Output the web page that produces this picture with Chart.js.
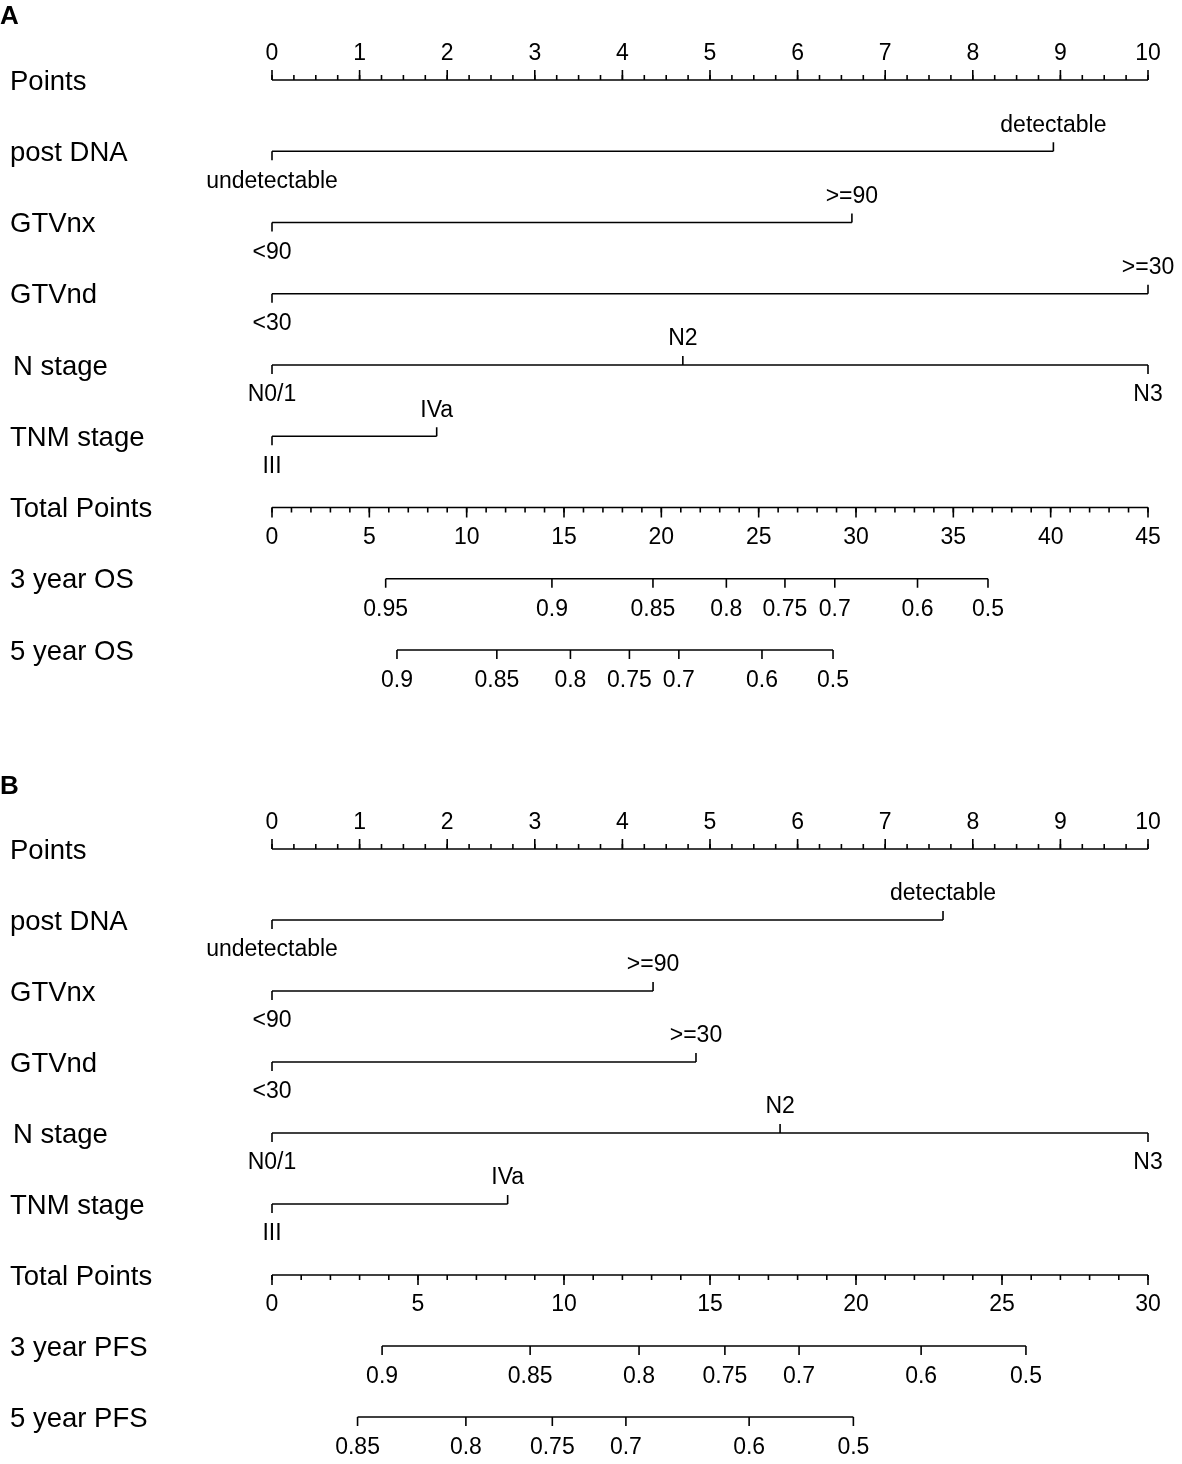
<!DOCTYPE html>
<html>
<head>
<meta charset="utf-8">
<script src="https://cdn.jsdelivr.net/npm/chart.js@4.4.1/dist/chart.umd.min.js"></script>
<style>
  html, body { margin: 0; padding: 0; background: #fff; }
  canvas { display: block; }
</style>
</head>
<body>
<canvas id="nomoA" width="1182" height="732"></canvas>
<canvas id="nomoB" width="1182" height="732"></canvas>
<script>
// ---- data ----
const pointTicks = [0, 1, 2, 3, 4, 5, 6, 7, 8, 9, 10];

const postDnaLevels = ['undetectable', 'detectable'];
const gtvnxLevels = ['<90', '>=90'];
const gtvndLevels = ['<30', '>=30'];
const nStageLevels = ['N0/1', 'N2', 'N3'];
const tnmLevels = ['III', 'IVa'];

// panel A (overall survival)
const postDnaA = [0, 8.92];
const gtvnxA = [0, 6.62];
const gtvndA = [0, 10];
const nStageA = [0, 4.69, 10];
const tnmA = [0, 1.88];
const totalTicksA = [0, 5, 10, 15, 20, 25, 30, 35, 40, 45];
const os3Labels = ['0.95', '0.9', '0.85', '0.8', '0.75', '0.7', '0.6', '0.5'];
const os3Total = [5.84, 14.38, 19.57, 23.34, 26.35, 28.91, 33.16, 36.78];
const os5Labels = ['0.9', '0.85', '0.8', '0.75', '0.7', '0.6', '0.5'];
const os5Total = [6.42, 11.55, 15.33, 18.36, 20.90, 25.17, 28.82];

// panel B (progression-free survival)
const postDnaB = [0, 7.66];
const gtvnxB = [0, 4.35];
const gtvndB = [0, 4.84];
const nStageB = [0, 5.80, 10];
const tnmB = [0, 2.69];
const totalTicksB = [0, 5, 10, 15, 20, 25, 30];
const pfs3Labels = ['0.9', '0.85', '0.8', '0.75', '0.7', '0.6', '0.5'];
const pfs3Total = [3.77, 8.84, 12.57, 15.51, 18.05, 22.23, 25.82];
const pfs5Labels = ['0.85', '0.8', '0.75', '0.7', '0.6', '0.5'];
const pfs5Total = [2.93, 6.64, 9.60, 12.12, 16.34, 19.91];

// ---- rows ----
function panelRows(v) {
  return [
    { name: 'Points', type: 'axis', axis: 'x', ticks: pointTicks, minorStep: 0.25 },
    { name: 'post DNA', type: 'var', axis: 'x', at: v.postDna, labels: postDnaLevels },
    { name: 'GTVnx', type: 'var', axis: 'x', at: v.gtvnx, labels: gtvnxLevels },
    { name: 'GTVnd', type: 'var', axis: 'x', at: v.gtvnd, labels: gtvndLevels },
    { name: 'N stage', type: 'var', axis: 'x', at: v.nStage, labels: nStageLevels, indent: 3 },
    { name: 'TNM stage', type: 'var', axis: 'x', at: v.tnm, labels: tnmLevels },
    { name: 'Total Points', type: 'total', axis: 'xt', ticks: v.totalTicks, minorStep: 1 },
    { name: v.surv3Name, type: 'prob', axis: 'xt', at: v.surv3, labels: v.surv3Labels },
    { name: v.surv5Name, type: 'prob', axis: 'xt', at: v.surv5, labels: v.surv5Labels }
  ];
}

const FONT = '"Liberation Sans", Arial, Helvetica, sans-serif';
const LW = 1.6;
const TY = 2; // baseline nudge so glyphs sit like the original

const nomogramPlugin = {
  id: 'nomogram',
  afterDatasetsDraw(chart, args, opts) {
    const ctx = chart.ctx;
    const ys = chart.scales.y;
    ctx.save();
    ctx.fillStyle = '#000';
    ctx.strokeStyle = '#000';
    ctx.lineWidth = LW;
    ctx.textBaseline = 'middle';

    // panel letter
    ctx.font = 'bold 26px ' + FONT;
    ctx.textAlign = 'left';
    ctx.fillText(opts.letter, 0, opts.letterY);

    const tick = (x, y, len) => {
      ctx.beginPath();
      ctx.moveTo(x, y);
      ctx.lineTo(x, y + len);
      ctx.stroke();
    };

    opts.rows.forEach((r, i) => {
      const y = ys.getPixelForValue(i);
      const sx = chart.scales[r.axis];

      ctx.font = '27.5px ' + FONT;
      ctx.textAlign = 'left';
      ctx.fillText(r.name, 10 + (r.indent || 0), y + TY);

      ctx.font = '23px ' + FONT;
      ctx.textAlign = 'center';
      if (r.type === 'axis' || r.type === 'total') {
        const dir = r.type === 'axis' ? -1 : 1;
        const lo = r.ticks[0], hi = r.ticks[r.ticks.length - 1];
        for (let v = lo; v <= hi + 1e-9; v += r.minorStep) {
          tick(sx.getPixelForValue(v), y, dir * 5);
        }
        r.ticks.forEach(v => {
          const px = sx.getPixelForValue(v);
          tick(px, y, dir * 10);
          ctx.fillText(String(v), px, y + dir * 28 + TY);
        });
      } else if (r.type === 'var') {
        r.at.forEach((v, k) => {
          const px = sx.getPixelForValue(v);
          const dir = k % 2 === 0 ? 1 : -1;
          tick(px, y, dir * 9);
          ctx.fillText(r.labels[k], px, y + dir * 28 + TY);
        });
      } else {
        r.at.forEach((v, k) => {
          const px = sx.getPixelForValue(v);
          tick(px, y, 9);
          ctx.fillText(r.labels[k], px, y + 29 + TY);
        });
      }
    });
    ctx.restore();
  }
};

function extent(r) {
  if (r.ticks) return [r.ticks[0], r.ticks[r.ticks.length - 1]];
  return [Math.min(...r.at), Math.max(...r.at)];
}

function drawPanel(id, rows, totalMax, yMin, yMax, letter, letterY) {
  const datasets = rows.map((r, i) => ({
    xAxisID: r.axis,
    data: extent(r).map(x => ({ x: x, y: i })),
    showLine: true,
    borderColor: '#000',
    borderWidth: LW,
    pointRadius: 0,
    fill: false
  }));
  new Chart(document.getElementById(id), {
    type: 'scatter',
    data: { datasets: datasets },
    options: {
      responsive: false,
      animation: false,
      layout: { padding: { left: 272, right: 34, top: 0, bottom: 0 } },
      plugins: {
        legend: { display: false },
        tooltip: { enabled: false },
        nomogram: { rows: rows, letter: letter, letterY: letterY }
      },
      scales: {
        x: { type: 'linear', min: 0, max: 10, display: false },
        xt: { type: 'linear', min: 0, max: totalMax, display: false },
        y: { type: 'linear', min: yMin, max: yMax, reverse: true, display: false }
      }
    },
    plugins: [nomogramPlugin]
  });
}

const rowsA = panelRows({
  postDna: postDnaA, gtvnx: gtvnxA, gtvnd: gtvndA, nStage: nStageA, tnm: tnmA,
  totalTicks: totalTicksA,
  surv3Name: '3 year OS', surv3: os3Total, surv3Labels: os3Labels,
  surv5Name: '5 year OS', surv5: os5Total, surv5Labels: os5Labels
});
const rowsB = panelRows({
  postDna: postDnaB, gtvnx: gtvnxB, gtvnd: gtvndB, nStage: nStageB, tnm: tnmB,
  totalTicks: totalTicksB,
  surv3Name: '3 year PFS', surv3: pfs3Total, surv3Labels: pfs3Labels,
  surv5Name: '5 year PFS', surv5: pfs5Total, surv5Labels: pfs5Labels
});

// rows sit 71px apart; first axis at y=80 in A and y=117 in B's canvas
drawPanel('nomoA', rowsA, 45, -80 / 71.25, -80 / 71.25 + 732 / 71.25, 'A', 17);
drawPanel('nomoB', rowsB, 30, -117 / 71, -117 / 71 + 732 / 71, 'B', 55);
</script>
</body>
</html>
